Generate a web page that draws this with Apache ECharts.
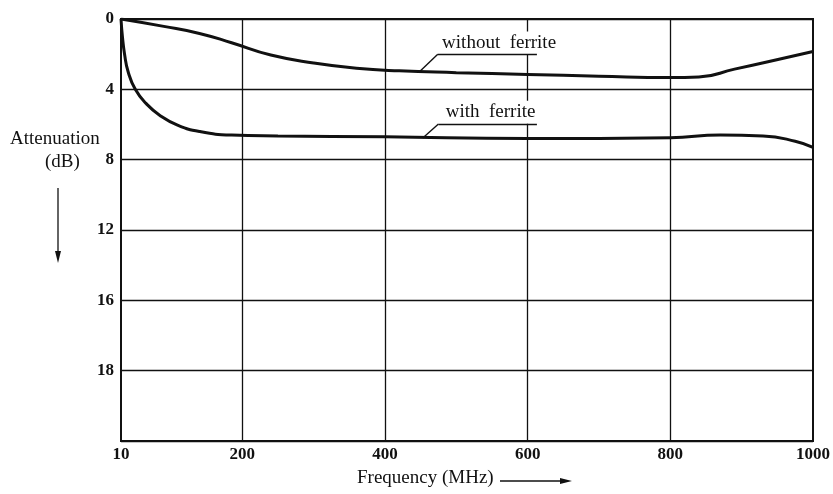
<!DOCTYPE html>
<html>
<head>
<meta charset="utf-8">
<script src="https://cdn.jsdelivr.net/npm/echarts@6/dist/echarts.min.js"></script>
<style>
  html, body { margin: 0; padding: 0; background: #fff; }
  #chart { width: 833px; height: 494px; }
</style>
</head>
<body>
<div id="chart"></div>
<script>
// x axis starts at the left edge labelled "10"; the drawing spaces the first interval narrower
var xTickValues = [30, 200, 400, 600, 800, 1000];
var xTickLabels = ['10', '200', '400', '600', '800', '1000'];
var yTickLabels = ['0', '4', '8', '12', '16', '18', ''];

// frequency (axis units), attenuation (dB)
var withoutFreq = [30, 90, 140, 185, 240, 300, 360, 420, 500, 600, 700, 800, 840, 890, 940, 1000];
var withoutAtt  = [0, 0.42, 0.82, 1.35, 2.05, 2.5, 2.8, 2.95, 3.05, 3.15, 3.25, 3.33, 3.3, 2.85, 2.4, 1.85];

var withFreq = [30, 32, 35, 40, 50, 65, 85, 110, 140, 185, 250, 400, 600, 800, 870, 930, 975, 1000];
var withAtt  = [0, 1.0, 2.0, 3.0, 4.0, 4.8, 5.5, 6.05, 6.4, 6.6, 6.65, 6.7, 6.8, 6.75, 6.6, 6.65, 6.95, 7.3];

function pairs(xs, ys) {
    return xs.map(function (x, i) { return [x, ys[i]]; });
}

var serif = '"Liberation Serif", serif';
var ink = '#111';

var chart = echarts.init(document.getElementById('chart'));

chart.setOption({
    animation: false,
    backgroundColor: '#fff',
    grid: {
        left: 121, right: 10, top: 19, bottom: 53,
        show: true, borderColor: ink, borderWidth: 2
    },
    xAxis: {
        type: 'value',
        min: 30, max: 1000,
        axisLine: { show: false },
        axisTick: { show: false },
        splitLine: { show: false },
        axisLabel: {
            customValues: xTickValues,
            formatter: function (v) { return xTickLabels[xTickValues.indexOf(v)]; },
            color: ink, fontFamily: serif, fontWeight: 'bold', fontSize: 17, margin: 5
        }
    },
    yAxis: {
        type: 'value',
        inverse: true,
        min: 0, max: 24, interval: 4,
        axisLine: { show: false },
        axisTick: { show: false },
        splitLine: { show: true, lineStyle: { color: ink, width: 1.3 } },
        axisLabel: {
            formatter: function (v) { return yTickLabels[v / 4]; },
            color: ink, fontFamily: serif, fontWeight: 'bold', fontSize: 17, margin: 7
        }
    },
    series: [
        {
            name: 'without ferrite',
            type: 'line',
            data: pairs(withoutFreq, withoutAtt),
            smooth: 0.5,
            showSymbol: false,
            lineStyle: { color: ink, width: 3 },
            z: 3,
            markLine: {
                silent: true,
                z: 2,
                symbol: ['none', 'none'],
                label: { show: false },
                lineStyle: { color: ink, width: 1.3, type: 'solid' },
                data: xTickValues.slice(1, -1).map(function (v) { return { xAxis: v }; })
            }
        },
        {
            name: 'with ferrite',
            type: 'line',
            data: pairs(withFreq, withAtt),
            smooth: 0.5,
            showSymbol: false,
            lineStyle: { color: ink, width: 3 },
            z: 3
        },
        {
            // annotation labels (white box hides the 600 grid line behind them)
            type: 'line',
            data: [],
            markPoint: {
                silent: true,
                z: 5,
                symbol: 'rect',
                symbolSize: 0,
                label: {
                    show: true, position: 'inside',
                    color: ink, fontFamily: serif, fontSize: 19,
                    backgroundColor: '#fff', padding: [3, 4, 1, 4]
                },
                data: [
                    { coord: [560, 1.37], value: 'without  ferrite', label: { formatter: 'without  ferrite' } },
                    { coord: [548, 5.3], value: 'with  ferrite', label: { formatter: 'with  ferrite' } }
                ]
            },
            // underlines and leader lines
            markLine: {
                silent: true,
                z: 7,
                symbol: ['none', 'none'],
                label: { show: false },
                lineStyle: { color: ink, width: 1.4, type: 'solid' },
                data: [
                    [{ coord: [474, 2.0] }, { coord: [613, 2.0] }],
                    [{ coord: [474, 2.0] }, { coord: [448, 3.01] }],
                    [{ coord: [475, 5.97] }, { coord: [613, 5.97] }],
                    [{ coord: [475, 5.97] }, { coord: [453, 6.77] }]
                ]
            }
        }
    ],
    graphic: [
        { type: 'text', left: 10, top: 130, style: { text: 'Attenuation', font: '19px ' + serif, fill: ink } },
        { type: 'text', left: 45, top: 153, style: { text: '(dB)', font: '19px ' + serif, fill: ink } },
        { type: 'line', shape: { x1: 58, y1: 188, x2: 58, y2: 255 }, style: { stroke: ink, lineWidth: 1.3 } },
        { type: 'polygon', shape: { points: [[55, 251], [61, 251], [58, 263]] }, style: { fill: ink } },
        { type: 'text', left: 357, top: 469, style: { text: 'Frequency (MHz)', font: '19px ' + serif, fill: ink } },
        { type: 'line', shape: { x1: 500, y1: 481, x2: 564, y2: 481 }, style: { stroke: ink, lineWidth: 1.3 } },
        { type: 'polygon', shape: { points: [[560, 478], [560, 484], [572, 481]] }, style: { fill: ink } }
    ]
});
</script>
</body>
</html>
